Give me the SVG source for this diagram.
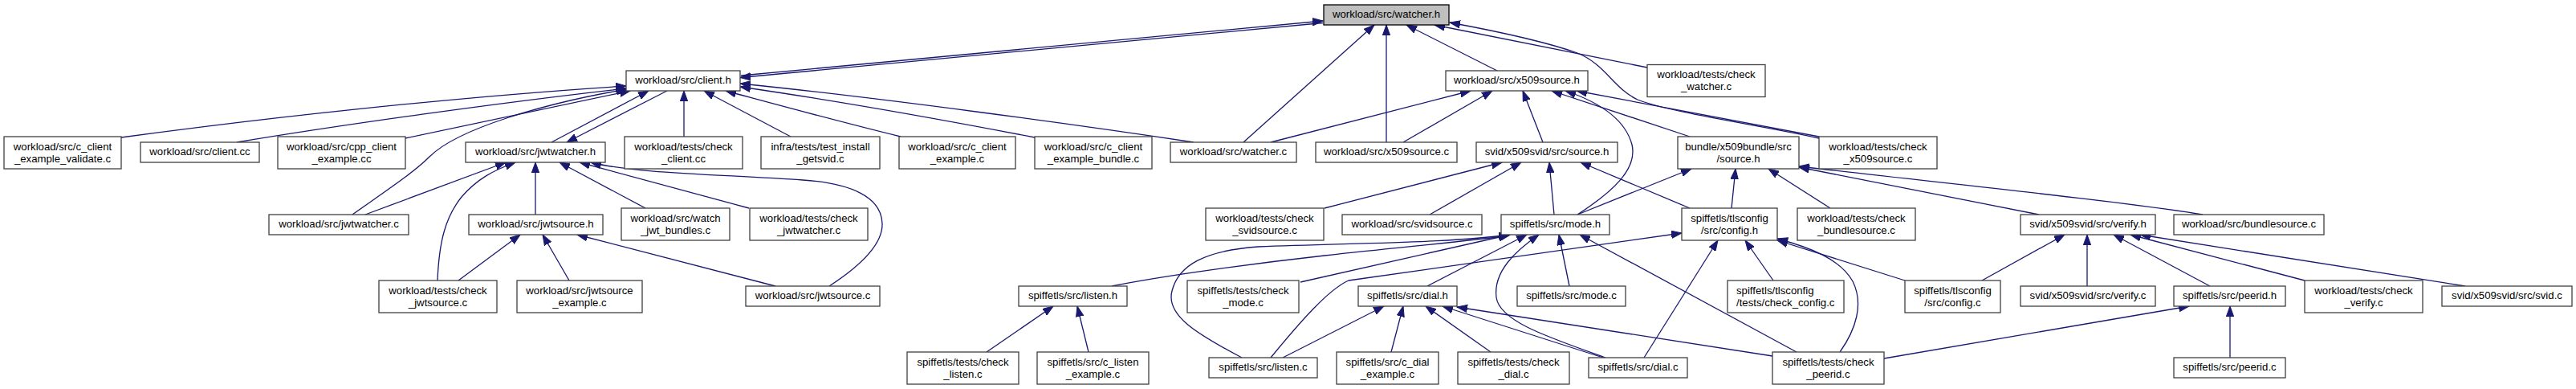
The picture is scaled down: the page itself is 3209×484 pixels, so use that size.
<svg xmlns="http://www.w3.org/2000/svg" width="3209" height="484" viewBox="0 0 3209 484">
<style>
.n rect{fill:#fff;stroke:#404040;stroke-width:1.3}
.n text{font-family:"Liberation Sans",Arial,sans-serif;font-size:13.2px;fill:#000;text-anchor:middle}
#n_watcher_h rect{fill:#bfbfbf;stroke:#000}
.e path{fill:none;stroke:#191970;stroke-width:1.3;marker-end:url(#a)}
</style>
<defs>
<marker id="a" markerUnits="userSpaceOnUse" markerWidth="14" markerHeight="10" refX="13" refY="5" orient="auto" viewBox="0 0 14 10">
<path d="M0,0.3 L13,5 L0,9.7 z" fill="#191970" stroke="#191970" stroke-width="1"/>
</marker>
</defs>
<rect width="3209" height="484" fill="#fff"/>
<g id="edges" class="e">
<path d="M923,94 L1648,26"/>
<path d="M1648,28.5 L922,96.5"/>
<path d="M151,171 C320,148 560,121 780,107"/>
<path d="M295,177 C420,156 620,128 780,110"/>
<path d="M505,172 L785,113"/>
<path d="M439,267 C480,238 515,215 535,195 C570,160 680,128 781,111"/>
<path d="M455,267 L630,202"/>
<path d="M687,177 L808,113"/>
<path d="M831,113 L706,177"/>
<path d="M852,170 L852,113"/>
<path d="M985,170 L877,113"/>
<path d="M1122,170 C1040,150 960,128 904,113"/>
<path d="M1289,171 C1180,150 1040,125 922,108"/>
<path d="M1487,177 C1340,155 1100,122 922,104"/>
<path d="M1549,177 L1712,31"/>
<path d="M1727,177 L1727,31"/>
<path d="M1865,88 L1752,31"/>
<path d="M2052,84 L1787,31"/>
<path d="M2266,172 C2200,157 2080,140 2040,124 C2010,110 2000,80 1965,66 C1920,50 1860,38 1806,28"/>
<path d="M1583,177 L1832,113"/>
<path d="M1748,177 L1859,113"/>
<path d="M1922,177 L1897,113"/>
<path d="M2105,170 L1933,113"/>
<path d="M1965,267 C2010,238 2040,210 2033,180 C2025,150 1995,128 1950,113"/>
<path d="M2266,170 L1964,113"/>
<path d="M1650,259 L1871,202"/>
<path d="M1781,267 L1895,202"/>
<path d="M1936,267 L1930,202"/>
<path d="M2105,259 L1969,202"/>
<path d="M1965,267 L2107,210"/>
<path d="M2157,259 L2162,210"/>
<path d="M2280,259 L2203,210"/>
<path d="M2540,267 L2241,208"/>
<path d="M2744,267 C2640,250 2420,228 2241,207"/>
<path d="M1547,445 C1490,415 1452,392 1460,362 C1468,330 1500,312 1567,307 C1700,302 1810,302 1880,292"/>
<path d="M1385,356 C1450,343 1560,328 1650,318 C1760,306 1830,300 1880,293"/>
<path d="M1620,351 L1881,292"/>
<path d="M1778,356 L1902,292"/>
<path d="M2000,445 C1930,420 1868,400 1864,370 C1860,338 1888,312 1917,292"/>
<path d="M1955,356 L1942,292"/>
<path d="M2238,438 L1968,292"/>
<path d="M1583,445 C1620,400 1655,360 1680,349 L2095,290"/>
<path d="M2048,445 L2140,299"/>
<path d="M2209,349 L2174,299"/>
<path d="M2292,438 C2312,410 2322,378 2308,350 C2292,322 2255,308 2214,297"/>
<path d="M2373,349 L2214,299"/>
<path d="M1598,445 L1724,381"/>
<path d="M1733,438 L1748,381"/>
<path d="M1857,438 L1776,381"/>
<path d="M1997,445 L1797,381"/>
<path d="M2208,443 L1815,382"/>
<path d="M1229,438 L1312,381"/>
<path d="M1356,438 L1342,381"/>
<path d="M545,349 C547,300 555,270 575,245 C595,222 615,212 642,202"/>
<path d="M667,267 L667,202"/>
<path d="M804,259 L697,202"/>
<path d="M933,259 L722,202"/>
<path d="M1033,356 C1070,332 1100,305 1099,278 C1098,245 1060,228 1000,224 C900,217 790,216 736,202"/>
<path d="M571,349 L648,292"/>
<path d="M709,349 L676,292"/>
<path d="M966,356 L719,292"/>
<path d="M2469,349 L2572,292"/>
<path d="M2600,356 L2600,292"/>
<path d="M2753,356 L2633,292"/>
<path d="M2871,349 L2654,292"/>
<path d="M3071,356 L2666,292"/>
<path d="M2778,445 L2778,381"/>
<path d="M2347,446 L2727,381"/>
</g>
<g id="n_watcher_h" class="n"><rect x="1649" y="6" width="156" height="25"/><text x="1727" y="22">workload/src/watcher.h</text></g>
<g id="n_client_h" class="n"><rect x="780" y="88" width="142" height="25"/><text x="851" y="104">workload/src/client.h</text></g>
<g id="n_x509source_h" class="n"><rect x="1801" y="88" width="177" height="25"/><text x="1889.5" y="104">workload/src/x509source.h</text></g>
<g id="n_check_watcher_c" class="n"><rect x="2052" y="80.5" width="147" height="40"/><text x="2125.5" y="97">workload/tests/check</text><text x="2125.5" y="112">_watcher.c</text></g>
<g id="n_c_client_example_validate_c" class="n"><rect x="5" y="170" width="146" height="40"/><text x="78" y="186.5">workload/src/c_client</text><text x="78" y="201.5">_example_validate.c</text></g>
<g id="n_client_cc" class="n"><rect x="175" y="177" width="148" height="25"/><text x="249" y="193">workload/src/client.cc</text></g>
<g id="n_cpp_client_example_cc" class="n"><rect x="346" y="170" width="159" height="40"/><text x="425.5" y="186.5">workload/src/cpp_client</text><text x="425.5" y="201.5">_example.cc</text></g>
<g id="n_jwtwatcher_h" class="n"><rect x="580" y="177" width="174" height="25"/><text x="667" y="193">workload/src/jwtwatcher.h</text></g>
<g id="n_check_client_cc" class="n"><rect x="778" y="170" width="147" height="40"/><text x="851.5" y="186.5">workload/tests/check</text><text x="851.5" y="201.5">_client.cc</text></g>
<g id="n_test_install_getsvid_c" class="n"><rect x="948" y="170" width="148" height="40"/><text x="1022" y="186.5">infra/tests/test_install</text><text x="1022" y="201.5">_getsvid.c</text></g>
<g id="n_c_client_example_c" class="n"><rect x="1120" y="170" width="145" height="40"/><text x="1192.5" y="186.5">workload/src/c_client</text><text x="1192.5" y="201.5">_example.c</text></g>
<g id="n_c_client_example_bundle_c" class="n"><rect x="1289" y="170" width="146" height="40"/><text x="1362" y="186.5">workload/src/c_client</text><text x="1362" y="201.5">_example_bundle.c</text></g>
<g id="n_watcher_c" class="n"><rect x="1458" y="177" width="157" height="25"/><text x="1536.5" y="193">workload/src/watcher.c</text></g>
<g id="n_x509source_c" class="n"><rect x="1639" y="177" width="176" height="25"/><text x="1727" y="193">workload/src/x509source.c</text></g>
<g id="n_svid_source_h" class="n"><rect x="1839" y="177" width="176" height="25"/><text x="1927" y="193">svid/x509svid/src/source.h</text></g>
<g id="n_bundle_source_h" class="n"><rect x="2090" y="170" width="151" height="40"/><text x="2165.5" y="186.5">bundle/x509bundle/src</text><text x="2165.5" y="201.5">/source.h</text></g>
<g id="n_check_x509source_c" class="n"><rect x="2266" y="170" width="147" height="40"/><text x="2339.5" y="186.5">workload/tests/check</text><text x="2339.5" y="201.5">_x509source.c</text></g>
<g id="n_jwtwatcher_c" class="n"><rect x="335" y="267" width="174" height="25"/><text x="422" y="283">workload/src/jwtwatcher.c</text></g>
<g id="n_jwtsource_h" class="n"><rect x="584" y="267" width="167" height="25"/><text x="667.5" y="283">workload/src/jwtsource.h</text></g>
<g id="n_watch_jwt_bundles_c" class="n"><rect x="774" y="259" width="135" height="40"/><text x="841.5" y="275.5">workload/src/watch</text><text x="841.5" y="290.5">_jwt_bundles.c</text></g>
<g id="n_check_jwtwatcher_c" class="n"><rect x="934" y="259" width="147" height="40"/><text x="1007.5" y="275.5">workload/tests/check</text><text x="1007.5" y="290.5">_jwtwatcher.c</text></g>
<g id="n_check_svidsource_c" class="n"><rect x="1502" y="259" width="147" height="40"/><text x="1575.5" y="275.5">workload/tests/check</text><text x="1575.5" y="290.5">_svidsource.c</text></g>
<g id="n_svidsource_c" class="n"><rect x="1672" y="267" width="174" height="25"/><text x="1759" y="283">workload/src/svidsource.c</text></g>
<g id="n_mode_h" class="n"><rect x="1870" y="267" width="135" height="25"/><text x="1937.5" y="283">spiffetls/src/mode.h</text></g>
<g id="n_config_h" class="n"><rect x="2095" y="259" width="119" height="40"/><text x="2154.5" y="275.5">spiffetls/tlsconfig</text><text x="2154.5" y="290.5">/src/config.h</text></g>
<g id="n_check_bundlesource_c" class="n"><rect x="2239" y="259" width="147" height="40"/><text x="2312.5" y="275.5">workload/tests/check</text><text x="2312.5" y="290.5">_bundlesource.c</text></g>
<g id="n_verify_h" class="n"><rect x="2517" y="267" width="168" height="25"/><text x="2601" y="283">svid/x509svid/src/verify.h</text></g>
<g id="n_bundlesource_c" class="n"><rect x="2708" y="267" width="187" height="25"/><text x="2801.5" y="283">workload/src/bundlesource.c</text></g>
<g id="n_check_jwtsource_c" class="n"><rect x="472" y="349" width="147" height="40"/><text x="545.5" y="365.5">workload/tests/check</text><text x="545.5" y="380.5">_jwtsource.c</text></g>
<g id="n_jwtsource_example_c" class="n"><rect x="644" y="349" width="156" height="40"/><text x="722" y="365.5">workload/src/jwtsource</text><text x="722" y="380.5">_example.c</text></g>
<g id="n_jwtsource_c" class="n"><rect x="929" y="356" width="167" height="25"/><text x="1012.5" y="372">workload/src/jwtsource.c</text></g>
<g id="n_listen_h" class="n"><rect x="1269" y="356" width="135" height="25"/><text x="1336.5" y="372">spiffetls/src/listen.h</text></g>
<g id="n_check_mode_c" class="n"><rect x="1479" y="349" width="139" height="40"/><text x="1548.5" y="365.5">spiffetls/tests/check</text><text x="1548.5" y="380.5">_mode.c</text></g>
<g id="n_dial_h" class="n"><rect x="1692" y="356" width="123" height="25"/><text x="1753.5" y="372">spiffetls/src/dial.h</text></g>
<g id="n_mode_c" class="n"><rect x="1890" y="356" width="135" height="25"/><text x="1957.5" y="372">spiffetls/src/mode.c</text></g>
<g id="n_check_config_c" class="n"><rect x="2152" y="349" width="145" height="40"/><text x="2163" y="365.5" style="text-anchor:start">spiffetls/tlsconfig</text><text x="2163" y="380.5" style="text-anchor:start">/tests/check_config.c</text></g>
<g id="n_config_c" class="n"><rect x="2373" y="349" width="119" height="40"/><text x="2432.5" y="365.5">spiffetls/tlsconfig</text><text x="2432.5" y="380.5">/src/config.c</text></g>
<g id="n_verify_c" class="n"><rect x="2517" y="356" width="168" height="25"/><text x="2601" y="372">svid/x509svid/src/verify.c</text></g>
<g id="n_peerid_h" class="n"><rect x="2708" y="356" width="139" height="25"/><text x="2777.5" y="372">spiffetls/src/peerid.h</text></g>
<g id="n_check_verify_c" class="n"><rect x="2871" y="349" width="147" height="40"/><text x="2944.5" y="365.5">workload/tests/check</text><text x="2944.5" y="380.5">_verify.c</text></g>
<g id="n_svid_c" class="n"><rect x="3042" y="356" width="162" height="25"/><text x="3123" y="372">svid/x509svid/src/svid.c</text></g>
<g id="n_check_listen_c" class="n"><rect x="1130" y="438" width="139" height="40"/><text x="1199.5" y="454.5">spiffetls/tests/check</text><text x="1199.5" y="469.5">_listen.c</text></g>
<g id="n_c_listen_example_c" class="n"><rect x="1292" y="438" width="139" height="40"/><text x="1361.5" y="454.5">spiffetls/src/c_listen</text><text x="1361.5" y="469.5">_example.c</text></g>
<g id="n_listen_c" class="n"><rect x="1506" y="445" width="135" height="25"/><text x="1573.5" y="461">spiffetls/src/listen.c</text></g>
<g id="n_c_dial_example_c" class="n"><rect x="1665" y="438" width="127" height="40"/><text x="1728.5" y="454.5">spiffetls/src/c_dial</text><text x="1728.5" y="469.5">_example.c</text></g>
<g id="n_check_dial_c" class="n"><rect x="1816" y="438" width="139" height="40"/><text x="1885.5" y="454.5">spiffetls/tests/check</text><text x="1885.5" y="469.5">_dial.c</text></g>
<g id="n_dial_c" class="n"><rect x="1979" y="445" width="123" height="25"/><text x="2040.5" y="461">spiffetls/src/dial.c</text></g>
<g id="n_check_peerid_c" class="n"><rect x="2208" y="438" width="139" height="40"/><text x="2277.5" y="454.5">spiffetls/tests/check</text><text x="2277.5" y="469.5">_peerid.c</text></g>
<g id="n_peerid_c" class="n"><rect x="2708" y="445" width="139" height="25"/><text x="2777.5" y="461">spiffetls/src/peerid.c</text></g>
</svg>
